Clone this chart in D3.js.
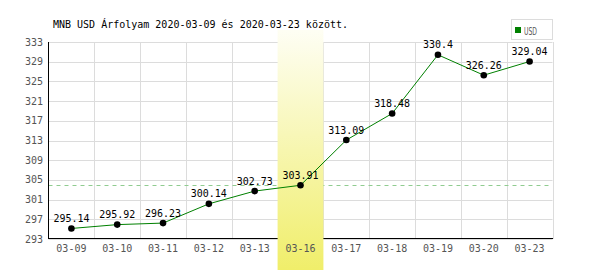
<!DOCTYPE html>
<html><head><meta charset="utf-8">
<script src="https://cdn.jsdelivr.net/npm/d3@7"></script>
<style>body{margin:0;background:#fff}svg{display:block}</style>
</head><body>
<script>
const dates = ["03-09","03-10","03-11","03-12","03-13","03-16","03-17","03-18","03-19","03-20","03-23"];
const values = [295.14,295.92,296.23,300.14,302.73,303.91,313.09,318.48,330.4,326.26,329.04];
const labels = ["295.14","295.92","296.23","300.14","302.73","303.91","313.09","318.48","330.4","326.26","329.04"];
const yTicks = [293,297,301,305,309,313,317,321,325,329,333];
const highlightDate = "03-16";
const title = "MNB USD Árfolyam 2020-03-09 és 2020-03-23 között.";
const seriesName = "USD";

const W = 600, H = 270;
const mono = "'DejaVu Sans Mono', monospace";
const svg = d3.select("body").append("svg").attr("width", W).attr("height", H);
const x = d3.scaleBand().domain(dates).range([48.5, 552.5]);
const y = d3.scaleLinear().domain([293, 333]).range([239, 42]);

const defs = svg.append("defs");
const grad = defs.append("linearGradient").attr("id","hl").attr("x1",0).attr("y1",0).attr("x2",0).attr("y2",1);
grad.append("stop").attr("offset","0%").attr("stop-color","#fefef4");
grad.append("stop").attr("offset","100%").attr("stop-color","#f0ee6a");

// grid
const g = svg.append("g");
g.selectAll(".hg").data(yTicks).join("line")
  .attr("x1", 48.5).attr("x2", 552.5)
  .attr("y1", d => Math.round(y(d)) + 0.5).attr("y2", d => Math.round(y(d)) + 0.5)
  .attr("stroke", "#dcdcdc");
g.selectAll(".vg").data(dates).join("line")
  .attr("x1", d => Math.round(x(d) + x.bandwidth()) + 0.5).attr("x2", d => Math.round(x(d) + x.bandwidth()) + 0.5)
  .attr("y1", 42).attr("y2", 239)
  .attr("stroke", "#dcdcdc");

// reference dashed line at highlighted day's value
const hv = values[dates.indexOf(highlightDate)];
svg.append("line").attr("x1", 48.5).attr("x2", 552.5)
  .attr("y1", Math.round(y(hv)) + 0.5).attr("y2", Math.round(y(hv)) + 0.5)
  .attr("stroke", "#90cc90").attr("stroke-dasharray", "4,4");

// axes
svg.append("line").attr("x1", 48.5).attr("x2", 48.5).attr("y1", 42).attr("y2", 239).attr("stroke", "#000");
svg.append("line").attr("x1", 48).attr("x2", 553).attr("y1", 238.5).attr("y2", 238.5).attr("stroke", "#000");

// highlight band
svg.append("rect").attr("x", x(highlightDate)).attr("width", x.bandwidth())
  .attr("y", 30).attr("height", H - 30).attr("fill", "url(#hl)");

// y tick labels
svg.selectAll(".yl").data(yTicks).join("text")
  .attr("x", 43).attr("y", d => y(d) + 3.5).attr("text-anchor", "end")
  .attr("font-family", mono).attr("font-size", 10).attr("fill", "#555")
  .text(d => d);
// x tick labels
svg.selectAll(".xl").data(dates).join("text")
  .attr("x", d => x(d) + x.bandwidth()/2).attr("y", 252).attr("text-anchor", "middle")
  .attr("font-family", mono).attr("font-size", 10).attr("fill", "#555")
  .text(d => d);

// title
svg.append("text").attr("x", 53).attr("y", 28).attr("font-family", mono).attr("font-size", 10)
  .attr("fill", "#000").text(title);

// line
const line = d3.line().x((d,i) => x(dates[i]) + x.bandwidth()/2).y(d => y(d));
svg.append("path").datum(values).attr("d", line).attr("fill", "none").attr("stroke", "#008000").attr("stroke-width", 1);
svg.selectAll(".pt").data(values).join("circle")
  .attr("cx", (d,i) => x(dates[i]) + x.bandwidth()/2).attr("cy", d => y(d)).attr("r", 3.3).attr("fill", "#000");
svg.selectAll(".dl").data(values).join("text")
  .attr("x", (d,i) => x(dates[i]) + x.bandwidth()/2).attr("y", d => y(d) - 6.5)
  .attr("text-anchor", "middle").attr("font-family", mono).attr("font-size", 11)
  .attr("textLength", (d,i) => labels[i].length * 6).attr("lengthAdjust", "spacingAndGlyphs")
  .attr("fill", "#000").text((d,i) => labels[i]);

// legend
svg.append("rect").attr("x", 511.5).attr("y", 19.5).attr("width", 41).attr("height", 20)
  .attr("fill", "#fff").attr("stroke", "#dcdcdc");
svg.append("rect").attr("x", 515).attr("y", 27).attr("width", 6).attr("height", 6).attr("fill", "#008000");
svg.append("text").attr("x", 524).attr("y", 34.5).attr("font-family", "'DejaVu Sans',sans-serif")
  .attr("font-size", 10).attr("textLength", 13).attr("lengthAdjust", "spacingAndGlyphs")
  .attr("fill", "#555").text(seriesName);
</script>
</body></html>
